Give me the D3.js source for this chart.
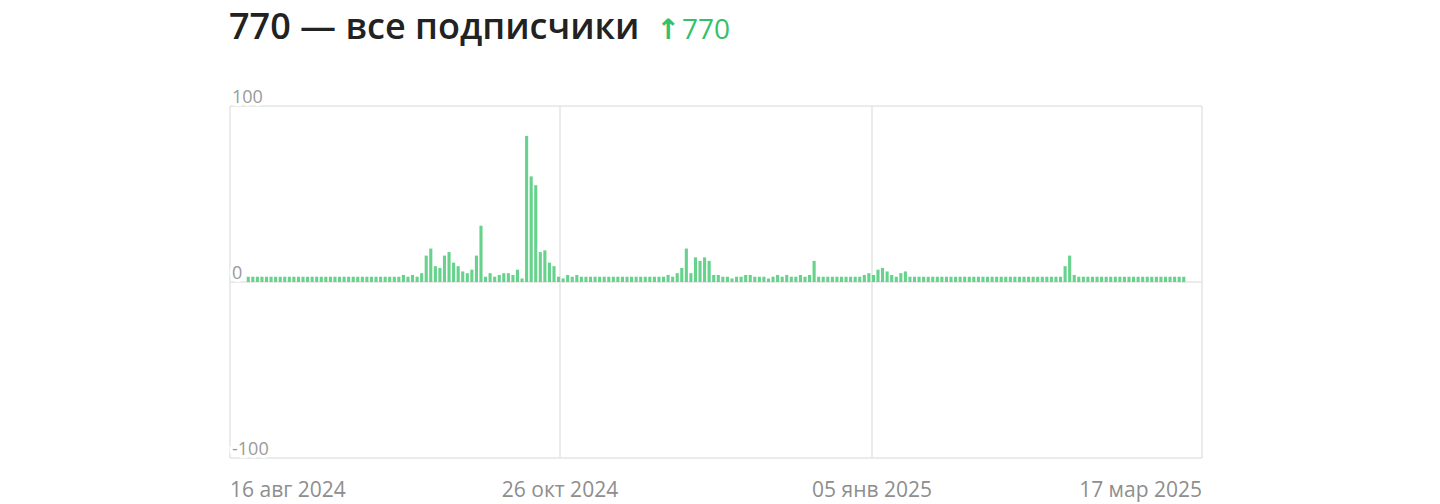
<!DOCTYPE html>
<html>
<head>
<meta charset="utf-8">
<script src="https://cdn.jsdelivr.net/npm/d3@7"></script>
<style>
    body { margin: 0; background: #fff; }
    svg { display: block; }
</style>
</head>
<body>
<div id="chart"></div>
<script>
// title numbers
const totalSubs = 770;
const totalGrowth = 770;

// first day with a bar, one value per day after it
const startDay = "2024-08-20";
const dailyJoins = [
    3, 3, 3, 3, 3, 3, 3, 3, 3, 3,
    3, 3, 3, 3, 3, 3, 3, 3, 3, 3,
    3, 3, 3, 3, 3, 3, 3, 3, 3, 3,
    3, 3, 3, 3, 4, 3, 4, 3, 5, 15,
    19, 9, 8, 15, 17, 11, 9, 6, 5, 7,
    15, 32, 3, 5, 3, 4, 5, 5, 4, 7,
    2, 83, 60, 55, 17, 18, 11, 9, 3, 2,
    4, 3, 4, 3, 3, 3, 3, 3, 3, 3,
    3, 3, 3, 3, 3, 3, 3, 3, 3, 3,
    3, 3, 4, 3, 5, 8, 19, 5, 14, 12,
    14, 12, 4, 4, 3, 3, 2, 3, 3, 4,
    4, 3, 3, 3, 2, 3, 4, 3, 4, 3,
    3, 4, 3, 4, 12, 3, 3, 3, 3, 3,
    3, 3, 3, 3, 3, 4, 5, 4, 7, 8,
    6, 4, 3, 5, 6, 3, 3, 3, 3, 3,
    3, 3, 3, 3, 3, 3, 3, 3, 3, 3,
    3, 3, 3, 3, 3, 3, 3, 3, 3, 3,
    3, 3, 3, 3, 3, 3, 3, 3, 3, 9,
    15, 4, 3, 3, 3, 3, 3, 3, 3, 3,
    3, 3, 3, 3, 3, 3, 3, 3, 3, 3,
    3, 3, 3, 3, 3, 3
];

// axis ticks
const dateTicks = ["2024-08-16", "2024-10-26", "2025-01-05", "2025-03-17"];
const dateTickLabels = ["16 авг 2024", "26 окт 2024", "05 янв 2025", "17 мар 2025"];
const valueTicks = [100, 0, -100];

window.onload = () => {

    const width = 1440;
    const height = 504;
    const left = 230, right = 1202, top = 106, bottom = 458;
    // the original draws its two middle date lines a little off the exact day
    const tickShift = [0, 6, -6, 0];

    var parse = d3.timeParse("%Y-%m-%d");
    var first = parse(startDay);

    var data = dailyJoins.map((v, i) => {
        return { date: d3.timeDay.offset(first, i), value: v };
    });

    var x = d3.scaleTime()
        .domain([parse(dateTicks[0]), parse(dateTicks[dateTicks.length - 1])])
        .range([left, right]);

    var y = d3.scaleLinear()
        .domain([-100, 100])
        .range([bottom, top]);

    var barWidth = 3.1;
    var tickX = (d, i) => x(parse(d)) + tickShift[i];

    var svg = d3.select("#chart")
        .append("svg")
        .attr("width", width)
        .attr("height", height)
        .style("font-family", "'Open Sans', 'Noto Sans', sans-serif");

    // title
    var title = svg.append("text")
        .attr("x", left - 1)
        .attr("y", 39)
        .attr("fill", "#222")
        .attr("font-size", 36)
        .attr("font-weight", 600);
    title.append("tspan")
        .text(`${totalSubs} — все подписчики`);
    title.append("tspan")
        .attr("dx", 17)
        .attr("fill", "#35c06a")
        .attr("font-size", 28)
        .attr("font-weight", 700)
        .style("font-family", "'DejaVu Sans', sans-serif")
        .text("↑");
    title.append("tspan")
        .attr("dx", 2)
        .attr("fill", "#35c06a")
        .attr("font-size", 28)
        .attr("font-weight", 400)
        .text(totalGrowth);

    // grid
    var grid = svg.append("g")
        .attr("stroke", "#e4e4e4")
        .attr("stroke-width", 1.5);

    grid.selectAll("line.h")
        .data(valueTicks)
        .enter()
        .append("line")
        .attr("class", "h")
        .attr("x1", left)
        .attr("x2", right)
        .attr("y1", d => y(d))
        .attr("y2", d => y(d));

    grid.selectAll("line.v")
        .data(dateTicks)
        .enter()
        .append("line")
        .attr("class", "v")
        .attr("x1", tickX)
        .attr("x2", tickX)
        .attr("y1", top)
        .attr("y2", bottom);

    // bars
    svg.append("g")
        .selectAll("rect")
        .data(data)
        .enter()
        .append("rect")
        .attr("x", d => x(d.date) - barWidth / 2)
        .attr("width", barWidth)
        .attr("y", d => y(Math.max(0, d.value)))
        .attr("height", d => Math.abs(y(d.value) - y(0)))
        .attr("fill", "#66d28c");

    // y labels, sitting on top of the grid lines
    svg.append("g")
        .selectAll("text")
        .data(valueTicks)
        .enter()
        .append("text")
        .attr("x", left + 2)
        .attr("y", d => y(d) - 3)
        .attr("font-size", 18)
        .attr("fill", "#9a9a9a")
        .attr("stroke", "#fff")
        .attr("stroke-width", 6)
        .attr("paint-order", "stroke")
        .text(d => d);

    // x labels
    svg.append("g")
        .selectAll("text")
        .data(dateTicks)
        .enter()
        .append("text")
        .attr("x", tickX)
        .attr("y", 497)
        .attr("font-size", 21)
        .attr("fill", "#8e8e8e")
        .attr("text-anchor", (_, i) => {
            if (i == 0) return "start";
            if (i == dateTicks.length - 1) return "end";
            return "middle";
        })
        .text((_, i) => dateTickLabels[i]);
}
</script>
</body>
</html>
